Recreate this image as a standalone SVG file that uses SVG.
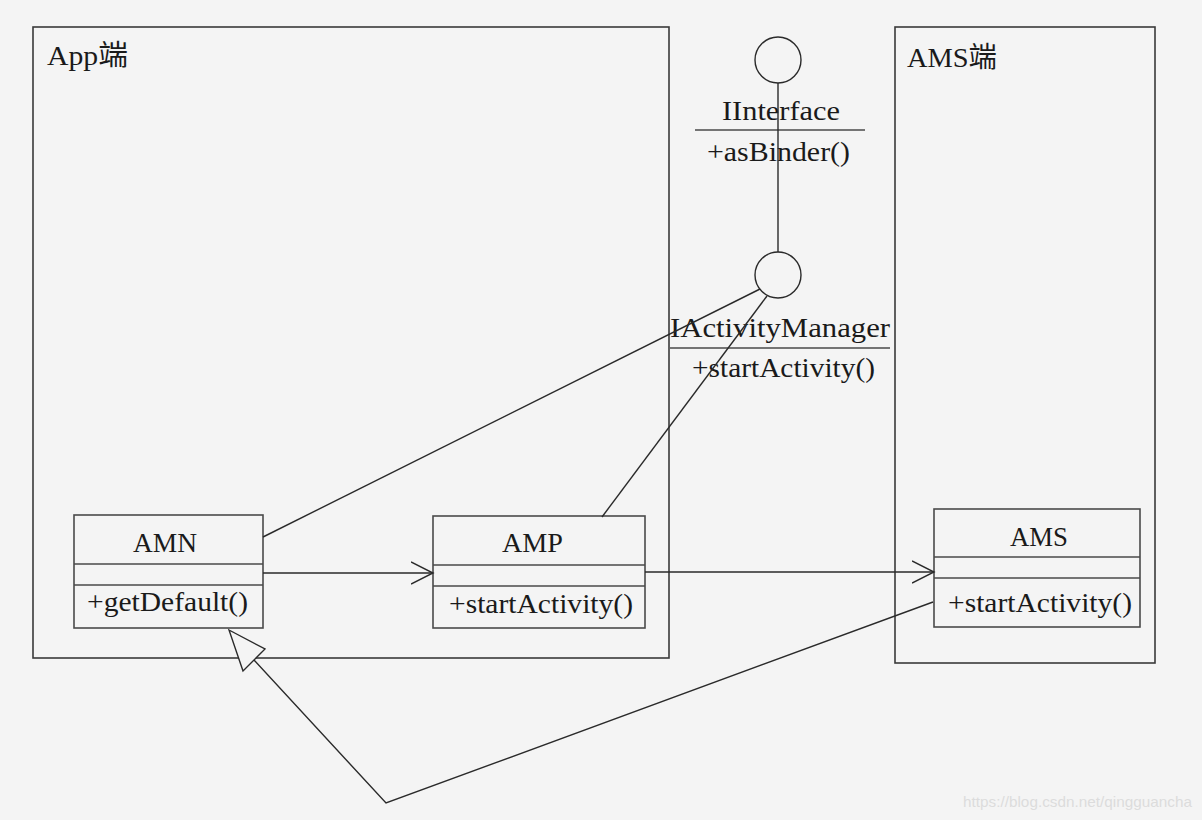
<svg xmlns="http://www.w3.org/2000/svg" width="1202" height="820" viewBox="0 0 1202 820">
<defs>
<style>
text{font-family:"Liberation Serif","Noto Sans CJK SC",serif;fill:#1a1a1a;font-size:28px}
.pkg{fill:none;stroke:#3a3a3a;stroke-width:1.6}
.cls{fill:#f4f4f4;stroke:#4a4a4a;stroke-width:1.6}
.div{stroke:#4a4a4a;stroke-width:1.6}
.ln{fill:none;stroke:#2a2a2a;stroke-width:1.4}
.wm{font-family:"Liberation Sans",sans-serif;font-size:15px;fill:#dcdcdc}
</style>
<marker id="open" markerWidth="24" markerHeight="24" viewBox="0 0 24 24" refX="22" refY="12" orient="auto" markerUnits="userSpaceOnUse">
<path d="M0,1 L22,12 L0,23" fill="none" stroke="#2a2a2a" stroke-width="1.4"/>
</marker>
</defs>
<rect width="1202" height="820" fill="#f4f4f4"/>

<g id="app-package">
<rect class="pkg" x="33" y="27" width="636" height="631"/>
<text x="47" y="65" textLength="81" lengthAdjust="spacingAndGlyphs">App端</text>
</g>
<g id="ams-package">
<rect class="pkg" x="895" y="27" width="260" height="636"/>
<text x="907" y="67" textLength="90" lengthAdjust="spacingAndGlyphs">AMS端</text>
</g>

<g id="IInterface">
<circle cx="778" cy="60" r="23" fill="none" stroke="#2a2a2a" stroke-width="1.4"/>
<text x="722" y="120" textLength="118" lengthAdjust="spacingAndGlyphs">IInterface</text>
<line class="div" x1="695" y1="130" x2="865" y2="130"/>
<text x="707" y="161" textLength="143" lengthAdjust="spacingAndGlyphs">+asBinder()</text>
</g>

<g id="IActivityManager">
<circle cx="778" cy="275" r="23" fill="none" stroke="#2a2a2a" stroke-width="1.4"/>
<text x="670" y="337" textLength="220" lengthAdjust="spacingAndGlyphs">IActivityManager</text>
<line class="div" x1="670" y1="348" x2="890" y2="348"/>
<text x="692" y="377" textLength="183" lengthAdjust="spacingAndGlyphs">+startActivity()</text>
</g>

<g id="AMN">
<rect class="cls" x="74" y="515" width="189" height="113"/>
<line class="div" x1="74" y1="564" x2="263" y2="564"/>
<line class="div" x1="74" y1="585" x2="263" y2="585"/>
<text x="133" y="552" textLength="64" lengthAdjust="spacingAndGlyphs">AMN</text>
<text x="87" y="611" textLength="161" lengthAdjust="spacingAndGlyphs">+getDefault()</text>
</g>

<g id="AMP">
<rect class="cls" x="433" y="516" width="212" height="112"/>
<line class="div" x1="433" y1="565" x2="645" y2="565"/>
<line class="div" x1="433" y1="586" x2="645" y2="586"/>
<text x="502" y="552" textLength="61" lengthAdjust="spacingAndGlyphs">AMP</text>
<text x="449" y="613" textLength="184" lengthAdjust="spacingAndGlyphs">+startActivity()</text>
</g>

<g id="AMS">
<rect class="cls" x="934" y="509" width="206" height="118"/>
<line class="div" x1="934" y1="557" x2="1140" y2="557"/>
<line class="div" x1="934" y1="578" x2="1140" y2="578"/>
<text x="1010" y="546" textLength="58" lengthAdjust="spacingAndGlyphs">AMS</text>
<text x="948" y="612" textLength="184" lengthAdjust="spacingAndGlyphs">+startActivity()</text>
</g>

<g id="connectors">
<line class="ln" x1="778" y1="83" x2="778" y2="252"/>
<line class="ln" x1="263" y1="537" x2="760" y2="289"/>
<line class="ln" x1="602" y1="517" x2="767" y2="296"/>
<line class="ln" x1="263" y1="573" x2="433" y2="573" marker-end="url(#open)"/>
<line class="ln" x1="645" y1="572" x2="934" y2="572" marker-end="url(#open)"/>
<polyline class="ln" points="933,602 386,803 254,660"/>
<polygon points="229,630 265,649 243,671" fill="#f4f4f4" stroke="#2a2a2a" stroke-width="1.4"/>
</g>

<text class="wm" x="963" y="807" textLength="229" lengthAdjust="spacingAndGlyphs">https://blog.csdn.net/qingguancha</text>
</svg>
